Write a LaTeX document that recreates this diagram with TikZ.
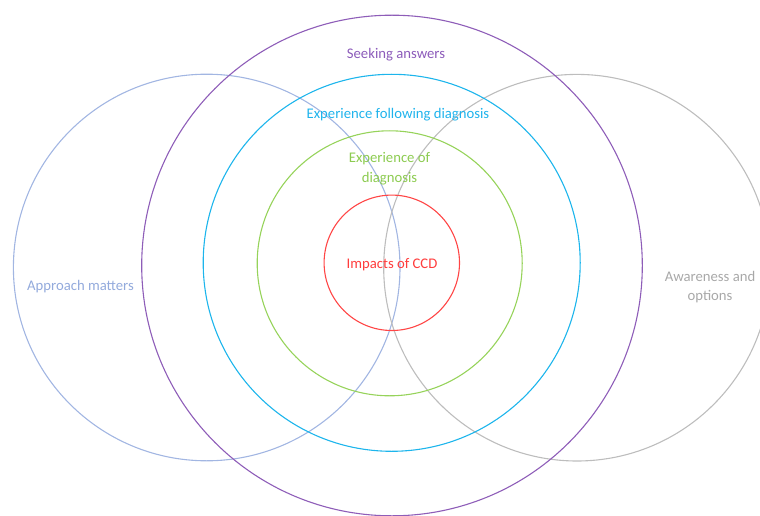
\documentclass[tikz,border=0pt]{standalone}
\usepackage{fontspec}
\setmainfont{Carlito}
\definecolor{cpurple}{HTML}{8E5DB8}
\definecolor{ccyan}{HTML}{1DB5EC}
\definecolor{cgreen}{HTML}{96D35A}
\definecolor{cred}{HTML}{FF4646}
\definecolor{cblue}{HTML}{A2B6E2}
\definecolor{cgray}{HTML}{BDBDBD}
\definecolor{tpurple}{HTML}{8C5BBA}
\definecolor{tcyan}{HTML}{1FB3EC}
\definecolor{tgreen}{HTML}{8CCB50}
\definecolor{tred}{HTML}{FF3C3C}
\definecolor{tblue}{HTML}{93AADC}
\definecolor{tgray}{HTML}{A8A8A8}
\tikzset{
  ring/.style={circle, draw=#1, line width=1.1pt, inner sep=0pt},
  lbl/.style={text=#1, font=\fontsize{14.7}{19.7}\selectfont, align=center, inner sep=0pt}
}
\begin{document}
\begin{tikzpicture}[x=1pt,y=-1pt]
\useasboundingbox (0,0) rectangle (760,516);
\node[ring=cblue, minimum size=386.6pt] (approach) at (206.7,267.5) {};
\node[ring=cgray, minimum size=386.6pt] (awareness) at (577,267.7) {};
\node[ring=cpurple, minimum size=500.6pt] (seeking) at (392,265.5) {};
\node[ring=ccyan, minimum size=377pt] (following) at (391.7,262.8) {};
\node[ring=cgreen, minimum size=265pt] (expdiag) at (389.7,263.3) {};
\node[ring=cred, minimum size=135.4pt] (impacts) at (391.8,262.8) {};
\node[lbl=tpurple] (tseek) at (396,55) {Seeking answers};
\node[lbl=tcyan] (tfollow) at (398,114.5) {Experience following diagnosis};
\node[lbl=tgreen] (texp) at (389.5,169) {Experience of\\diagnosis};
\node[lbl=tred] (timp) at (392,264.5) {Impacts of CCD};
\node[lbl=tblue] (tappr) at (80.5,287) {Approach matters};
\node[lbl=tgray] (taware) at (710,287) {Awareness and\\options};
\end{tikzpicture}
\end{document}
